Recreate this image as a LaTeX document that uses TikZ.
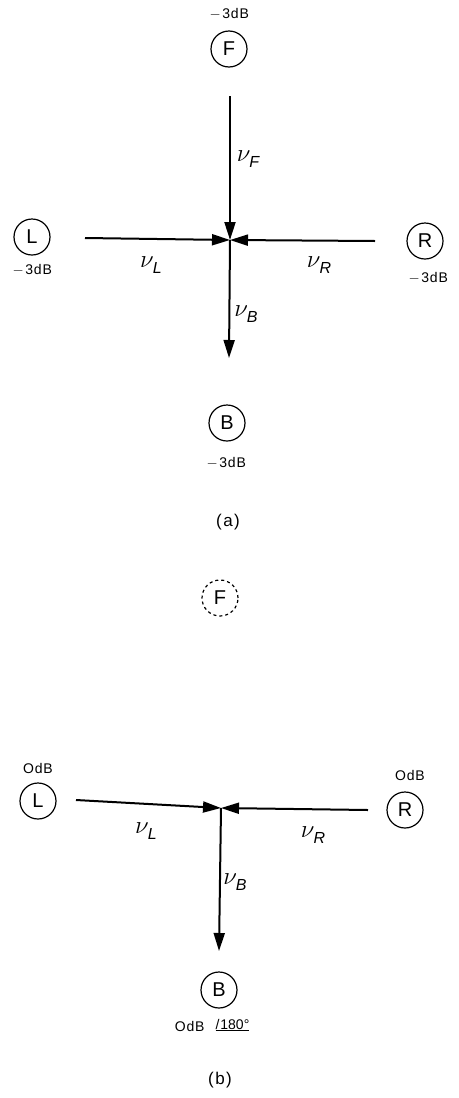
\documentclass[tikz,border=0pt]{standalone}
\usepackage{fontspec}
\setmainfont{Liberation Sans}
\usetikzlibrary{arrows.meta}
\tikzset{
  spk/.style={circle,draw,line width=1.2pt,minimum size=36pt,inner sep=0pt,font=\fontsize{20}{20}\selectfont},
  lvl/.style={font=\fontsize{14}{14}\selectfont},
  vec/.style={line width=2pt,-{Triangle[length=18pt,width=11pt]}},
  vlab/.style={font=\fontsize{27}{27}\selectfont},
  captxt/.style={font=\fontsize{17}{17}\selectfont}
}
\newcommand{\vlabel}[1]{$\nu$\kern-1pt\raisebox{-0.45ex}{\fontsize{16}{16}\selectfont\itshape #1}}
\newcommand{\dbm}{\kern0.5pt$-$\kern1.5pt3\kern0.8pt d\kern0.8pt B}
\newcommand{\dbz}{O\kern0.8pt d\kern0.8pt B}
\begin{document}
\begin{tikzpicture}[x=1pt,y=-1pt]
\useasboundingbox (0,0) rectangle (458,1098);
% ---------- (a) ----------
\node[spk] (F) at (229,49) {F};
\node[lvl] (Fl) at (229,14) {\dbm};
\node[spk] (L) at (32,237) {L};
\node[lvl] (Ll) at (32,270) {\dbm};
\node[spk] (R) at (425,241) {R};
\node[lvl] (Rl) at (428,278) {\dbm};
\node[spk] (B) at (227,423) {B};
\node[lvl] (Bl) at (226,463) {\dbm};
\coordinate (Ca) at (230,240);
\coordinate (Fs) at (230,96);
\coordinate (Ls) at (85,238);
\coordinate (Rs) at (375,241);
\coordinate (Be) at (229,358);
\draw[vec] (Fs) -- (Ca);
\draw[vec] (Ls) -- (Ca);
\draw[vec] (Rs) -- (Ca);
\draw[vec] (Ca) -- (Be);
\node[vlab] (nF) at (248,159) {\vlabel{F}};
\node[vlab] (nL) at (151,265) {\vlabel{L}};
\node[vlab] (nR) at (319,265) {\vlabel{R}};
\node[vlab] (nB) at (246,314) {\vlabel{B}};
\node[captxt] (a) at (228,522) {(\kern1.5pt a\kern1.5pt)};
% ---------- (b) ----------
\node[spk,dashed] (F2) at (220,598) {F};
\node[spk] (L2) at (38,801) {L};
\node[lvl] (L2l) at (38,768) {\dbz};
\node[spk] (R2) at (405,810) {R};
\node[lvl] (R2l) at (410,775) {\dbz};
\node[spk] (B2) at (219,990) {B};
\node[lvl,anchor=east] (B2l) at (208,1026) {\dbz};
\node[lvl,anchor=west] (B2a) at (212,1025) {\underline{/\kern1pt 180\textdegree}};
\coordinate (Cb) at (221,808);
\coordinate (L2s) at (76,800);
\coordinate (R2s) at (368,810);
\coordinate (B2e) at (219,951);
\draw[vec] (L2s) -- (Cb);
\draw[vec] (R2s) -- (Cb);
\draw[vec] (Cb) -- (B2e);
\node[vlab] (nL2) at (146,831) {\vlabel{L}};
\node[vlab] (nR2) at (313,835) {\vlabel{R}};
\node[vlab] (nB2) at (235,882) {\vlabel{B}};
\node[captxt] (b) at (220,1080) {(\kern1.5pt b\kern1.5pt)};
\end{tikzpicture}
\end{document}
